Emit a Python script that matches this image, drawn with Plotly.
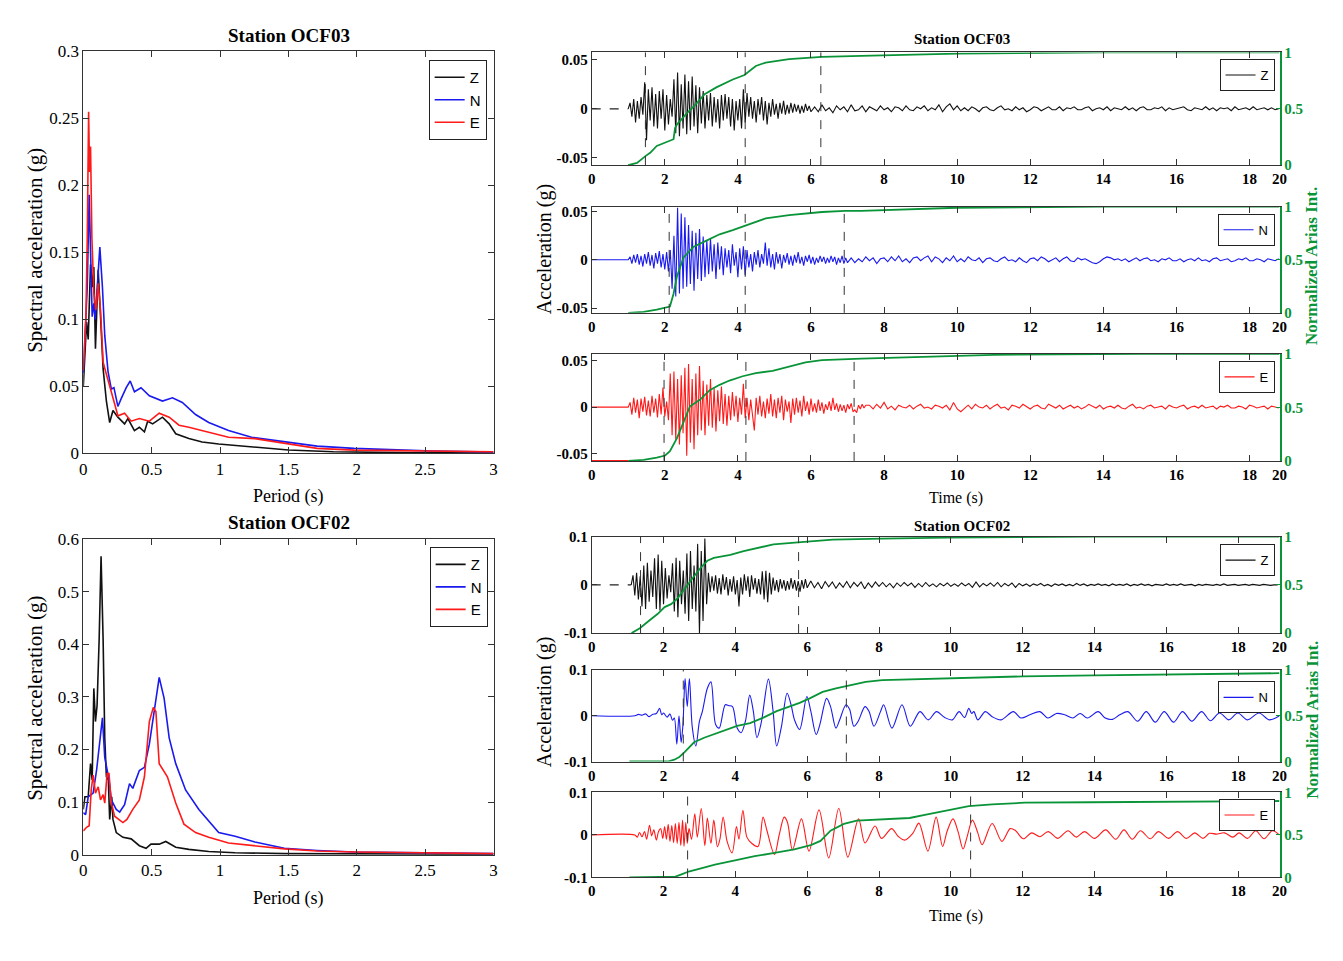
import numpy as np
import plotly.graph_objects as go

W, H = 1343, 961
SERIF = "Liberation Serif"
SANS = "Liberation Sans"
GREEN = "#0a9438"
COLORS = {"Z": "#111111", "N": "#1a1aee", "E": "#ff1a1a"}
COMPS = ["Z", "N", "E"]

# ------------------------------------------------------------------
# Response spectra (period in s, spectral acceleration in g)
# ------------------------------------------------------------------
per03_Z = [0, 0.024, 0.036, 0.053, 0.068, 0.077, 0.089, 0.109, 0.133, 0.145, 0.169, 0.193, 0.217, 0.253, 0.302, 0.326,
           0.374, 0.41, 0.447, 0.471, 0.507, 0.579, 0.628, 0.676, 0.772, 0.869, 0.99, 1.23, 1.5, 1.83, 2.32, 3.0]
sa03_Z = [0.05, 0.098, 0.085, 0.141, 0.124, 0.139, 0.078, 0.137, 0.088, 0.063, 0.039, 0.023, 0.032, 0.027, 0.022, 0.026,
          0.017, 0.0195, 0.016, 0.024, 0.022, 0.027, 0.022, 0.0146, 0.011, 0.0085, 0.007, 0.005, 0.0025, 0.0012, 0.0005, 0.0002]
per03_N = [0, 0.012, 0.029, 0.043, 0.055, 0.065, 0.077, 0.087, 0.101, 0.121, 0.14, 0.157, 0.181, 0.205, 0.224, 0.253,
           0.278, 0.314, 0.343, 0.374, 0.422, 0.483, 0.579, 0.652, 0.724, 0.821, 0.917, 1.062, 1.23, 1.47, 1.71, 1.98,
           2.32, 2.56, 3.0]
sa03_N = [0.06, 0.083, 0.124, 0.193, 0.149, 0.102, 0.112, 0.1, 0.122, 0.154, 0.124, 0.088, 0.061, 0.048, 0.049, 0.035,
          0.041, 0.049, 0.054, 0.046, 0.049, 0.043, 0.039, 0.0415, 0.038, 0.029, 0.023, 0.017, 0.012, 0.0085, 0.0054,
          0.0037, 0.0024, 0.0017, 0.001]
per03_E = [0, 0.019, 0.029, 0.039, 0.046, 0.053, 0.063, 0.077, 0.092, 0.109, 0.126, 0.145, 0.169, 0.198, 0.229, 0.253,
           0.302, 0.35, 0.41, 0.483, 0.555, 0.628, 0.7, 0.772, 0.917, 1.062, 1.255, 1.47, 1.71, 1.98, 2.32, 3.0]
sa03_E = [0.062, 0.1, 0.161, 0.255, 0.21, 0.229, 0.161, 0.12, 0.107, 0.127, 0.107, 0.068, 0.059, 0.049, 0.037, 0.028,
          0.03, 0.024, 0.026, 0.024, 0.03, 0.027, 0.021, 0.0195, 0.016, 0.012, 0.011, 0.0073, 0.0037, 0.0024, 0.002, 0.0012]

per02_Z = [0, 0.012, 0.036, 0.053, 0.065, 0.077, 0.089, 0.101, 0.116, 0.13, 0.145, 0.157, 0.169, 0.183, 0.193, 0.208,
           0.217, 0.241, 0.29, 0.35, 0.41, 0.459, 0.495, 0.555, 0.603, 0.676, 0.772, 0.917, 1.11, 1.47, 3.0]
sa02_Z = [0.086, 0.11, 0.11, 0.173, 0.142, 0.316, 0.253, 0.284, 0.409, 0.567, 0.409, 0.222, 0.148, 0.142, 0.067, 0.11,
          0.067, 0.042, 0.033, 0.03, 0.017, 0.012, 0.02, 0.02, 0.025, 0.014, 0.01, 0.006, 0.0037, 0.002, 0.0005]
per02_N = [0, 0.017, 0.036, 0.072, 0.097, 0.121, 0.14, 0.157, 0.174, 0.188, 0.205, 0.241, 0.266, 0.302, 0.338, 0.362,
           0.41, 0.447, 0.483, 0.519, 0.555, 0.591, 0.628, 0.676, 0.748, 0.845, 0.99, 1.11, 1.255, 1.47, 1.71, 1.98,
           2.32, 3.0]
sa02_N = [0.08, 0.076, 0.11, 0.117, 0.16, 0.222, 0.26, 0.185, 0.16, 0.142, 0.104, 0.086, 0.081, 0.095, 0.135, 0.126,
          0.16, 0.166, 0.21, 0.272, 0.337, 0.297, 0.222, 0.173, 0.123, 0.086, 0.042, 0.035, 0.024, 0.012, 0.008, 0.005,
          0.004, 0.002]
per02_E = [0, 0.024, 0.043, 0.058, 0.072, 0.089, 0.109, 0.126, 0.145, 0.157, 0.174, 0.188, 0.205, 0.229, 0.29, 0.319,
           0.362, 0.41, 0.447, 0.483, 0.512, 0.531, 0.555, 0.579, 0.615, 0.676, 0.736, 0.821, 0.917, 1.062, 1.23, 1.47,
           1.71, 1.98, 2.32, 3.0]
sa02_E = [0.045, 0.052, 0.055, 0.123, 0.151, 0.117, 0.129, 0.104, 0.114, 0.098, 0.154, 0.154, 0.098, 0.073, 0.061, 0.067,
          0.086, 0.104, 0.148, 0.253, 0.28, 0.272, 0.173, 0.163, 0.148, 0.098, 0.058, 0.042, 0.033, 0.022, 0.017, 0.011,
          0.007, 0.005, 0.004, 0.002]

period_ticks = [0, 0.5, 1, 1.5, 2, 2.5, 3]
period_tick_labels = ["0", "0.5", "1", "1.5", "2", "2.5", "3"]
sa03_ticks = [0, 0.05, 0.1, 0.15, 0.2, 0.25, 0.3]
sa03_tick_labels = ["0", "0.05", "0.1", "0.15", "0.2", "0.25", "0.3"]
sa02_ticks = [0, 0.1, 0.2, 0.3, 0.4, 0.5, 0.6]
sa02_tick_labels = ["0", "0.1", "0.2", "0.3", "0.4", "0.5", "0.6"]

# ------------------------------------------------------------------
# Acceleration time histories (milli-g)
# ------------------------------------------------------------------
pre03_t = [0.0, 1.0]
pre02_t = [0.0, 1.1]
pre_acc = [0, 0]

# OCF03 Z : 1.00-6.00 s every 0.05 s, then 6.1-18.8 s every 0.1 s
acc03_Z_main = [0, 6, -8, 10, -14, 8, -10, 12, -6, 27,
                -32, 20, -12, 22, -18, 15, -20, 18, -10, 20,
                -22, 14, -16, 10, -8, 30, -25, 37, -28, 25,
                -20, 35, -26, 28, -22, 33, -18, 24, -25, 22,
                -15, 18, -20, 14, -12, 16, -18, 12, -14, 10,
                -20, 14, -12, 15, -10, 12, -18, 10, -22, 8,
                -12, 10, -20, 20, -14, 16, -8, 12, -10, 8,
                -14, 10, -6, 12, -12, 8, -16, 6, -8, 10,
                -6, 5, -10, 6, -5, 8, -6, 4, -5, 6,
                -4, 5, -3, 4, -5, 3, -4, 5, -2, 3,
                -3]
acc03_Z_tail = [2, -3, 4, -2, 1, -4, 3, -1, 2, -3, 4, -2, -1, 3, -3, 2, 0, -2, 3, -1,
                1, -3, 2, 1, -2, 3, -1, -2, 2, 0, 3, -2, 1, -1, 4, -3, 2, 5, -1, 3,
                -2, 1, -2, 2, 0, -3, 1, 2, -1, -2, 1, 3, -1, 0, -2, 2, -1, 1, -3, -1,
                2, 1, -2, 0, 2, -1, -1, 2, -2, 1, 0, 2, -1, -1, 1, 2, -2, 0, 1, -1,
                2, -2, 1, 0, -1, 2, -1, 1, -2, 1, 2, -1, -1, 1, 0, 2, -2, 1, -1, 0,
                1, 2, -1, -2, 1, 0, -1, 2, -1, 1, -2, 1, 0, 1, -2, 2, -1, 0, 1, -1,
                2, -1, 0, 1, -1, 1, -1, 0]

# OCF03 N : 1.00-7.00 s every 0.05 s, then 7.1-18.8 s every 0.1 s
acc03_N_main = [0, 3, -4, 5, -3, 6, -5, 4, -7, 6,
                -4, 8, -6, 5, -9, 7, -4, 9, -8, 6,
                -10, 8, -12, 10, -30, 25, -38, 54, -35, 48,
                -30, 44, -28, 36, -25, 30, -32, 28, -20, 32,
                -22, 24, -18, 20, -15, 22, -12, 16, -20, 18,
                -10, 14, -16, 12, -8, 10, -14, 16, -6, 8,
                -18, 12, -10, 14, -16, 10, -8, 6, -12, 8,
                -5, 10, -8, 6, -4, 18, -6, 12, -8, 6,
                -10, 8, -4, 6, -9, 5, -3, 7, -5, 4,
                -6, 5, -3, 8, -4, 3, -6, 4, -2, 5,
                -4, 3, -5, 2, -3, 4, -2, 3, -4, 2,
                -3, 4, -2, 3, -5, 2, -3, 4, -4, 2,
                -3]
acc03_N_tail = [2, -3, 1, -2, 3, -1, 2, -4, 1, 2, -2, 3, -1, 4, -2, 1, -3, 2, 3, -1,
                2, 4, -2, 3, 1, -3, 2, -1, 4, -2, 1, -2, 3, 0, -1, 2, -3, 1, 2, -1,
                -2, 1, 3, -1, 0, -2, 2, -1, -3, 1, 2, -1, 3, 1, -2, 0, 2, -2, 1, 3,
                -1, -2, 2, 0, 1, -1, -3, -4, -2, 1, 3, 2, 0, 1, -1, 1, -2, 0, 2, -1,
                1, 2, -1, 0, -2, 1, 0, 2, -1, -1, 1, -2, 0, 1, -1, 2, -1, 0, -2, 1,
                2, -1, 0, 1, -2, -1, 1, 0, 2, -1, -1, 1, 0, -2, 1, 0, -1, 1]

# OCF03 E : 1.00-7.50 s every 0.05 s, then 7.6-18.8 s every 0.1 s
acc03_E_main = [0, 5, -8, 10, -6, 8, -12, 9, -5, 11,
                -9, 7, -10, 12, -6, 9, -11, 14, -8, 21,
                -10, 6, -14, 36, -30, 38, -35, 30, -40, 34,
                -28, 42, -52, 46, -38, 30, -45, 36, -30, 44,
                -25, 28, -30, 24, -20, 30, -22, 20, -26, 18,
                -15, 22, -18, 14, -20, 12, -14, 16, -10, 12,
                -16, 10, -8, 25, -12, 10, -14, 8, -6, -25,
                10, -8, 12, -10, 6, -12, 9, -7, 14, -10,
                8, -12, 10, -6, 12, -14, 8, -5, 6, -17,
                9, -8, 10, -6, 7, -10, 12, -4, 6, -8,
                9, -5, 4, -6, 8, -4, 5, -7, 3, -3,
                6, -4, 10, -3, 4, -5, 3, -4, 2, -6,
                3, -2, 4, -5, -3, -6, 2, -2, 3, -1,
                2]
acc03_E_tail = [2, -2, 3, -1, 5, -2, 1, -3, 2, 0, -1, 2, -2, 1, 3, -1, 0, -2, 2, 1,
                -1, 2, -3, 5, -2, -5, -1, 2, -2, 3, 0, -1, 2, -2, 1, 3, -1, 0, -3, 2,
                1, -1, 3, 0, -2, 1, 2, -1, -2, 3, 1, -1, 2, -2, 0, 2, -1, 1, -2, 0,
                3, 1, -1, 2, -2, 0, 1, -1, 2, -1, -2, 1, 3, -1, 0, -2, 1, 2, -1, 0,
                1, -2, 2, 0, -1, 1, 2, -2, 0, 1, -1, 2, -1, 0, 1, -2, 1, 0, 2, -1,
                -1, 1, 0, -2, 2, 1, -1, 0, 1, -2, 1, 0, -1]

# OCF02 Z : 1.10-6.00 s every 0.05 s, then 6.1-19.1 s every 0.1 s
acc02_Z_main = [0, 20, -22, 25, -30, 18, -45, 40, -50, 46,
                -35, 30, -25, 55, -50, 63, -53, 50, -40, 35,
                -28, 20, -15, 45, -55, 56, -67, 50, -40, 30,
                -60, 65, -75, 70, -50, 40, -55, 85, -100, 70,
                -75, 96, -40, 25, -15, 18, -12, 20, -18, 14,
                -20, 22, -10, 16, -22, 12, -14, 18, -20, 10,
                -45, 15, -20, 22, -12, 18, -25, 20, -10, 14,
                -18, 12, -20, 28, -30, 29, -36, 25, -20, 15,
                -12, 10, -15, 12, -8, 10, -12, 8, -10, 14,
                -8, 10, -12, 8, -14, 10, -8, 12, -6]
acc02_Z_tail = [8, -6, 5, -8, 7, -4, 6, -7, 4, -5, 7, -6, 5, -3, 6, -8, 4, -5, 6, -3,
                5, -4, 3, -6, 4, -3, 5, -2, 4, -5, 3, -4, 5, -3, 2, -4, 3, -2, 4, -3,
                2, -3, 4, -2, 3, -5, 6, -4, 3, -2, 4, -3, 5, -4, 3, -2, 4, -5, 3, -2,
                2, -3, 2, -1, 3, -2, 1, -3, 2, -1, 2, -2, 1, -2, 3, -1, 2, -2, 1, -1,
                2, -1, 1, -2, 2, -1, 1, -1, 2, -2, 1, -1, 2, -1, 1, -2, 1, 0, -1, 2,
                -1, 1, -1, 2, -1, 0, 1, -2, 1, -1, 1, 0, -1, 1, -1, 2, -1, 0, 1, -1,
                0, 1, -1, 1, 0, -1, 1, 0, -1, 0, 0]

# OCF02 N and E : smooth long-period motion, peaks and troughs (time s, milli-g)
acc02_N_t = [0, 1.2, 1.3, 1.4, 1.5, 1.6, 1.7, 1.8, 1.89, 1.95, 2.0, 2.1, 2.18, 2.25, 2.3, 2.37, 2.43, 2.49, 2.54, 2.6,
             2.66, 2.72, 2.8, 2.9, 3.0, 3.08, 3.22, 3.32, 3.45, 3.55, 3.72, 3.82, 3.92, 4.05, 4.16, 4.28, 4.4, 4.5,
             4.6, 4.72, 4.92, 5.05, 5.15, 5.28, 5.44, 5.55, 5.65, 5.79, 5.99, 6.1, 6.25, 6.35, 6.54, 6.65, 6.8, 6.9,
             7.08, 7.18, 7.3, 7.42, 7.61, 7.72, 7.86, 8.04, 8.13, 8.36, 8.64, 8.87, 9.14, 9.37, 9.6, 9.83, 10.04,
             10.23, 10.38, 10.5, 10.58, 10.64, 10.75, 10.96, 11.15, 11.4, 11.74, 11.95, 12.2, 12.48, 12.7, 12.94,
             13.17, 13.4, 13.6, 13.8, 14.1, 14.3, 14.5, 14.7, 14.93, 15.2, 15.44, 15.69, 15.94, 16.2, 16.45, 16.71,
             16.98, 17.23, 17.48, 17.74, 17.99, 18.26, 18.58, 18.86, 19.15]
acc02_N = [0, 0, 3, 1, 4, -2, 3, 5, 16, 2, 6, -3, 4, -10, -5, -62, 0, -58, -20, 81,
           20, 81, -25, -66, -12, 9, 60, 74, -19, -27, 24, 22, 20, -27, -37, -12, 45, 10,
           -48, -15, 80, 10, -66, -25, 49, 24, -10, -30, 42, 10, -41, -20, 38, 20, -27, -10,
           24, 14, -23, -12, 20, 10, -23, 9, 24, -27, 24, -23, 9, -9, 9, -4, -9,
           9, -4, 16, 5, 9, -9, 9, -2, -9, 9, -5, 2, 9, -5, 5,
           2, -5, 5, -5, 9, -5, -8, 2, 9, -12, 9, -14, 9, -14, 9, -12,
           9, -11, 6, -9, 6, -9, 6, -9, 0]

acc02_E_t = [0, 1.2, 1.27, 1.33, 1.4, 1.47, 1.53, 1.61, 1.67, 1.73, 1.8, 1.86, 1.92, 1.98, 2.03, 2.08, 2.13, 2.18,
             2.23, 2.28, 2.33, 2.38, 2.43, 2.48, 2.53, 2.57, 2.62, 2.66, 2.71, 2.78, 2.87, 2.94, 3.05, 3.15, 3.22,
             3.32, 3.4, 3.5, 3.57, 3.66, 3.77, 3.91, 4.03, 4.1, 4.21, 4.32, 4.46, 4.63, 4.77, 4.88, 5.09, 5.22, 5.36,
             5.45, 5.59, 5.84, 6.05, 6.33, 6.6, 6.88, 7.13, 7.43, 7.61, 7.89, 8.07, 8.35, 8.53, 8.71, 8.94, 9.11,
             9.36, 9.59, 9.77, 9.9, 10.06, 10.2, 10.34, 10.45, 10.6, 10.75, 10.87, 11.15, 11.42, 11.65, 11.79, 12.02,
             12.25, 12.48, 12.71, 12.98, 13.26, 13.49, 13.72, 14.0, 14.31, 14.59, 14.82, 15.05, 15.28, 15.55, 15.78,
             16.06, 16.31, 16.56, 16.79, 17.02, 17.2, 17.39, 17.62, 17.85, 18.03, 18.26, 18.49, 18.72, 18.95, 19.15]
acc02_E = [0, 0, -5, 6, -4, 8, -10, 23, -2, 12, -12, 8, 15, -8, 20, -10, 25, -15,
           22, -18, 27, -20, 30, -25, 35, -27, 30, -20, 15, -10, 50, -5, 62, -25, 40,
           -20, 35, -28, -10, 42, -15, -42, 20, -10, 58, -5, -20, -27, 42, 10, -46, 0, 42,
           30, -35, 38, -38, 59, -54, 63, -52, 38, -19, 21, -8, 15, -3, -12, 4, 28,
           -38, 42, -27, 10, 38, 8, -33, -5, 35, 5, -23, 27, -15, 15, 11, -9,
           5, -4, 8, -8, 10, -5, 8, -8, 12, -10, 12, -10, 10, -9, 8,
           -8, 8, -8, 5, -8, 4, 2, 5, -5, 5, -8, 10, -9, 10, 0]

# ------------------------------------------------------------------
# Normalized Arias intensity (0-1)
# ------------------------------------------------------------------
ari03_Z_t = [1.0, 1.24, 1.47, 1.6, 1.78, 2.01, 2.24, 2.28, 2.33, 2.6, 2.82, 3.09, 3.41, 3.86, 4.18, 4.49, 4.76, 5.4,
             6.3, 7.38, 10, 14, 18.82]
ari03_Z = [0, 0.02, 0.08, 0.11, 0.17, 0.2, 0.23, 0.33, 0.36, 0.46, 0.53, 0.63, 0.69, 0.76, 0.8, 0.88, 0.91, 0.94,
           0.96, 0.97, 0.99, 1.0, 1.0]
ari03_N_t = [1.0, 1.42, 1.78, 2.05, 2.14, 2.24, 2.33, 2.51, 2.78, 3.14, 3.5, 3.86, 4.18, 4.49, 4.76, 5.4, 6.3, 6.93,
             7.38, 10, 14, 18.82]
ari03_N = [0, 0.01, 0.03, 0.05, 0.06, 0.18, 0.34, 0.52, 0.62, 0.68, 0.74, 0.78, 0.82, 0.86, 0.89, 0.92, 0.95, 0.96,
           0.96, 0.99, 1.0, 1.0]
ari03_E_t = [1.0, 1.42, 1.78, 2.01, 2.14, 2.33, 2.51, 2.69, 2.96, 3.23, 3.5, 3.77, 4.13, 4.49, 4.95, 5.4, 5.85, 6.3,
             6.84, 7.38, 11, 15, 18.82]
ari03_E = [0, 0.01, 0.03, 0.05, 0.09, 0.21, 0.36, 0.51, 0.57, 0.66, 0.71, 0.75, 0.79, 0.82, 0.84, 0.88, 0.92, 0.94,
           0.95, 0.955, 0.99, 1.0, 1.0]
ari02_Z_t = [1.11, 1.34, 1.57, 1.84, 2.03, 2.21, 2.39, 2.58, 2.85, 3.04, 3.22, 3.4, 3.86, 4.23, 4.6, 5.06, 5.74,
             6.71, 8.09, 9.92, 14, 19.15]
ari02_Z = [0, 0.05, 0.12, 0.2, 0.27, 0.3, 0.36, 0.46, 0.59, 0.68, 0.75, 0.78, 0.81, 0.85, 0.88, 0.92, 0.94, 0.97,
           0.98, 0.99, 1.0, 1.0]
ari02_N_t = [1.05, 2.12, 2.3, 2.44, 2.58, 2.85, 3.13, 3.49, 3.77, 4.05, 4.41, 4.78, 5.15, 5.51, 5.79, 6.07, 6.43, 6.8,
             7.17, 7.63, 8.09, 9.0, 9.92, 10.66, 12, 14, 16, 18, 19.15]
ari02_N = [0, 0, 0.02, 0.05, 0.1, 0.21, 0.26, 0.31, 0.35, 0.39, 0.42, 0.48, 0.55, 0.6, 0.64, 0.69, 0.76, 0.8,
           0.83, 0.87, 0.89, 0.9, 0.91, 0.92, 0.93, 0.94, 0.95, 0.96, 0.965]
ari02_E_t = [1.05, 1.6, 2.33, 2.52, 2.7, 3.07, 3.43, 3.99, 4.54, 5.09, 5.64, 6.1, 6.37, 6.65, 7.02, 7.38, 7.93, 8.85,
             9.31, 9.86, 10.5, 11.15, 12.06, 13.9, 15.74, 17.57, 19.15]
ari02_E = [0, 0.005, 0.01, 0.04, 0.07, 0.11, 0.15, 0.2, 0.25, 0.29, 0.33, 0.38, 0.43, 0.55, 0.63, 0.67, 0.68, 0.7,
           0.74, 0.79, 0.84, 0.86, 0.88, 0.885, 0.89, 0.896, 0.9]
ari_pre = [0, 0]          # pre-event baseline of the OCF03 E Arias curve (drawn in red)

# Significant-duration markers (s)
dur03_Z = [1.47, 4.2, 6.27]
dur03_N = [2.12, 4.2, 6.91]
dur03_E = [1.98, 4.22, 7.18]
dur02_Z = [1.36, 5.76]
dur02_N = [2.55, 7.09]
dur02_E = [2.67, 10.55]

time_ticks = [0, 2, 4, 6, 8, 10, 12, 14, 16, 18]
time_tick_labels = ["0", "2", "4", "6", "8", "10", "12", "14", "16", "18"]
acc03_ticks, acc03_tick_labels = [-0.05, 0, 0.05], ["-0.05", "0", "0.05"]
acc02_ticks, acc02_tick_labels = [-0.1, 0, 0.1], ["-0.1", "0", "0.1"]
arias_ticks, arias_tick_labels = [0, 0.5, 1], ["0", "0.5", "1"]


# ------------------------------------------------------------------
def samples(t0, dt, mg):
    return t0 + dt * np.arange(len(mg)), np.asarray(mg, float) / 1000.0


def join(*parts):
    return np.concatenate([p[0] for p in parts]), np.concatenate([p[1] for p in parts])


pre03 = (np.asarray(pre03_t, float), np.asarray(pre_acc, float))
pre02 = (np.asarray(pre02_t, float), np.asarray(pre_acc, float))

acc = {
    ("03", "Z"): join(samples(1.0, 0.05, acc03_Z_main), samples(6.1, 0.1, acc03_Z_tail)),
    ("03", "N"): join(pre03, samples(1.0, 0.05, acc03_N_main), samples(7.1, 0.1, acc03_N_tail)),
    ("03", "E"): join(pre03, samples(1.0, 0.05, acc03_E_main), samples(7.6, 0.1, acc03_E_tail)),
    ("02", "Z"): join(samples(1.1, 0.05, acc02_Z_main), samples(6.1, 0.1, acc02_Z_tail)),
    ("02", "N"): (np.asarray(acc02_N_t, float), np.asarray(acc02_N, float) / 1000.0),
    ("02", "E"): (np.asarray(acc02_E_t, float), np.asarray(acc02_E, float) / 1000.0),
}
smooth = {("02", "N"), ("02", "E")}
arias = {
    ("03", "Z"): (ari03_Z_t, ari03_Z), ("03", "N"): (ari03_N_t, ari03_N), ("03", "E"): (ari03_E_t, ari03_E),
    ("02", "Z"): (ari02_Z_t, ari02_Z), ("02", "N"): (ari02_N_t, ari02_N), ("02", "E"): (ari02_E_t, ari02_E),
}
durations = {
    ("03", "Z"): dur03_Z, ("03", "N"): dur03_N, ("03", "E"): dur03_E,
    ("02", "Z"): dur02_Z, ("02", "N"): dur02_N, ("02", "E"): dur02_E,
}
spectra = {
    "03": {"Z": (per03_Z, sa03_Z), "N": (per03_N, sa03_N), "E": (per03_E, sa03_E)},
    "02": {"Z": (per02_Z, sa02_Z), "N": (per02_N, sa02_N), "E": (per02_E, sa02_E)},
}


def fx(px):
    return px / W


def fy(py):
    return 1 - py / H


def dom_x(a, b):
    return [fx(a), fx(b)]


def dom_y(top, bottom):
    return [fy(bottom), fy(top)]


AXLINE = "#333333"
fig = go.Figure()
layout = dict(width=W, height=H, margin=dict(l=0, r=0, t=0, b=0), autosize=False,
              paper_bgcolor="white", plot_bgcolor="white", showlegend=True,
              font=dict(family=SERIF, color="black"))
annotations, shapes = [], []


def legend_box(right_px, top_px, size):
    return dict(x=fx(right_px), y=fy(top_px), xanchor="right", yanchor="top", bgcolor="white",
                bordercolor="#222222", borderwidth=1, font=dict(family=SANS, size=size, color="black"),
                itemwidth=30, tracegroupgap=0, traceorder="normal")


def text(x_px, y_px, s, size, bold=False, color="black", angle=0):
    annotations.append(dict(x=fx(x_px), y=fy(y_px), xref="paper", yref="paper", text=s, showarrow=False,
                            xanchor="center", yanchor="middle", textangle=angle,
                            font=dict(family=SERIF, size=size, color=color, weight="bold" if bold else "normal")))


# ---------------- left: spectra ----------------
left_specs = [("03", "", 43.3, 453.3, [0, 0.3], sa03_ticks, sa03_tick_labels, (487, 52)),
              ("02", "2", 540.7, 862.7, [0, 0.6], sa02_ticks, sa02_tick_labels, (488, 549))]
for st, sfx, top, bot, yr, yt, ytt, lg in left_specs:
    lgname = "legend" + sfx
    for comp in COMPS:
        p, s = spectra[st][comp]
        fig.add_trace(go.Scatter(x=p, y=s, mode="lines", name=comp, legend=lgname,
                                 line=dict(color=COLORS[comp], width=1.6),
                                 xaxis="x" + sfx, yaxis="y" + sfx))
    common = dict(showgrid=False, zeroline=False, showline=True, linecolor=AXLINE, linewidth=1,
                  ticks="inside", ticklen=6, tickcolor=AXLINE, mirror="ticks",
                  tickfont=dict(family=SERIF, size=17, color="black"))
    layout["xaxis" + sfx] = dict(domain=dom_x(80, 494), range=[0, 3], anchor="y" + sfx,
                                 tickvals=period_ticks, ticktext=period_tick_labels, **common)
    layout["yaxis" + sfx] = dict(domain=dom_y(top, bot), range=yr, anchor="x" + sfx,
                                 tickvals=yt, ticktext=ytt, **common)
    layout[lgname] = legend_box(lg[0], lg[1], 15)

text(288, 27, "Station OCF03", 19, bold=True)
text(288, 524, "Station OCF02", 19, bold=True)
text(287, 497, "Period (s)", 18)
text(287, 907, "Period (s)", 18)
text(31, 246, "Spectral acceleration (g)", 21, angle=-90)
text(31, 703, "Spectral acceleration (g)", 21, angle=-90)

# ---------------- right: time histories ----------------
right_specs = [
    ("03", "Z", 44.3, 159.3, [-0.0575, 0.0575], 18.82, 51),
    ("03", "N", 201.7, 310.0, [-0.055, 0.055], 18.82, 209),
    ("03", "E", 351.7, 461.0, [-0.0575, 0.057], 18.82, 359),
    ("02", "Z", 538.3, 636.7, [-0.1, 0.1], 19.15, 546),
    ("02", "N", 674.3, 767.7, [-0.1, 0.1], 19.15, 686),
    ("02", "E", 799.3, 886.0, [-0.1, 0.1], 19.15, 806),
]
for k, (st, comp, top, bot, yr, tend, lgtop) in enumerate(right_specs):
    n = k + 3
    xa, ya, ya2 = f"x{n}", f"y{n}", f"y{n + 6}"
    lgname = f"legend{n}"
    t, v = acc[(st, comp)]
    if comp == "Z":
        pre = pre03 if st == "03" else pre02
        fig.add_trace(go.Scatter(x=pre[0], y=pre[1], mode="lines", showlegend=False,
                                 line=dict(color="#222222", width=1.2, dash="dash"), xaxis=xa, yaxis=ya))
    shape = dict(shape="spline", smoothing=0.9) if (st, comp) in smooth else dict(shape="linear")
    fig.add_trace(go.Scatter(x=t, y=v, mode="lines", name=comp, legend=lgname,
                             line=dict(color=COLORS[comp], width=1.1, **shape), xaxis=xa, yaxis=ya))
    if (st, comp) == ("03", "E"):
        fig.add_trace(go.Scatter(x=pre03_t, y=ari_pre, mode="lines", showlegend=False,
                                 line=dict(color=COLORS["E"], width=1.8), xaxis=xa, yaxis=ya2))
    at, av = arias[(st, comp)]
    fig.add_trace(go.Scatter(x=at, y=av, mode="lines", showlegend=False,
                             line=dict(color=GREEN, width=1.8), xaxis=xa, yaxis=ya2))
    for d in durations[(st, comp)]:
        shapes.append(dict(type="line", xref=xa, yref=f"{ya} domain", x0=d, x1=d, y0=0, y1=1,
                           line=dict(color="#333333", width=1, dash="dash"), layer="above"))
    yt, ytt = (acc03_ticks, acc03_tick_labels) if st == "03" else (acc02_ticks, acc02_tick_labels)
    bold_font = dict(family=SERIF, size=15, color="black", weight="bold")
    layout["xaxis" + str(n)] = dict(domain=dom_x(593, 1287), range=[0, tend], anchor=ya,
                                    tickvals=time_ticks + [tend], ticktext=time_tick_labels + ["20"],
                                    showgrid=False, zeroline=False, showline=True, linecolor=AXLINE,
                                    linewidth=1, ticks="inside", ticklen=6, tickcolor=AXLINE,
                                    mirror="ticks", tickfont=bold_font)
    layout["yaxis" + str(n)] = dict(domain=dom_y(top, bot), range=yr, anchor=xa, tickvals=yt, ticktext=ytt,
                                    showgrid=False, zeroline=False, showline=True, linecolor=AXLINE,
                                    linewidth=1, ticks="inside", ticklen=5, tickcolor=AXLINE,
                                    tickfont=bold_font)
    layout["yaxis" + str(n + 6)] = dict(overlaying=ya, anchor=xa, side="right", range=[0, 1],
                                        tickvals=arias_ticks, ticktext=arias_tick_labels,
                                        showgrid=False, zeroline=False, showline=True, linecolor=GREEN,
                                        linewidth=1.5, ticks="inside", ticklen=4, tickcolor=GREEN,
                                        tickfont=dict(family=SERIF, size=15, color=GREEN, weight="bold"))
    layout[lgname] = legend_box(1282, lgtop, 13)

text(967, 31, "Station OCF03", 15, bold=True)
text(967, 527, "Station OCF02", 15, bold=True)
text(961, 499, "Time (s)", 16)
text(961, 925, "Time (s)", 16)
text(545, 245, "Acceleration (g)", 20, angle=-90)
text(545, 707, "Acceleration (g)", 20, angle=-90)
text(1320, 262, "Normalized Arias Int.", 17, bold=True, color=GREEN, angle=-90)
text(1320, 725, "Normalized Arias Int.", 17, bold=True, color=GREEN, angle=-90)

layout["annotations"] = annotations
layout["shapes"] = shapes
fig.update_layout(**layout)
fig.write_html("out.html")
